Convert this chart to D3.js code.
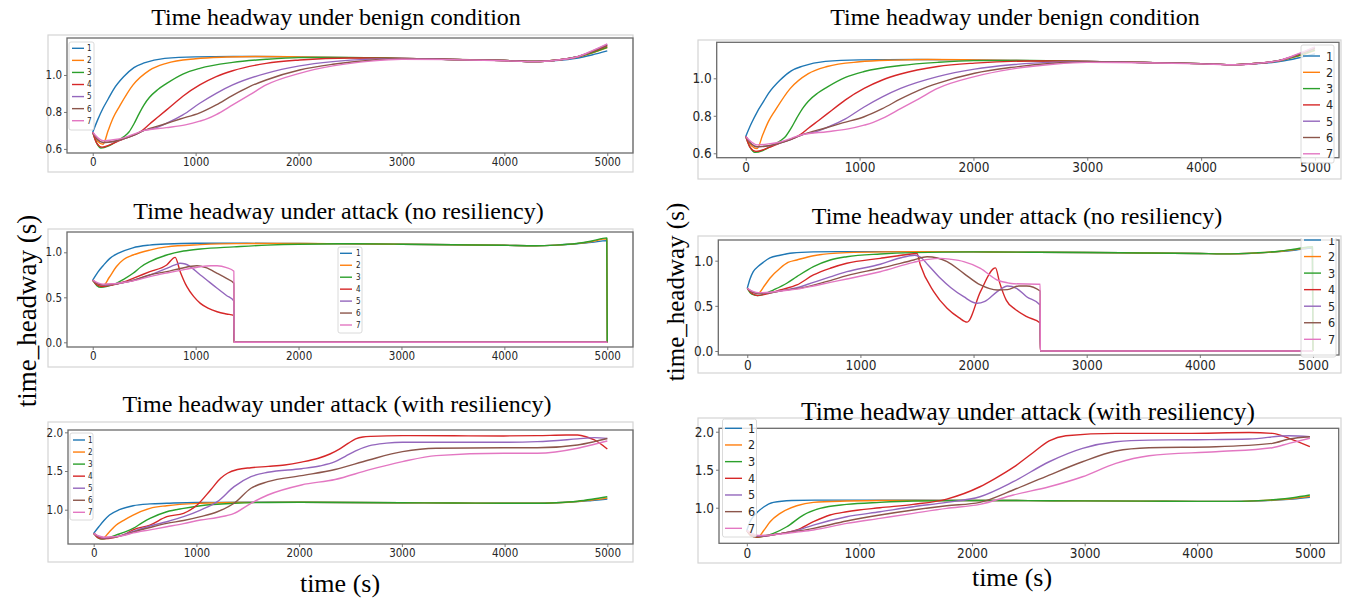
<!DOCTYPE html>
<html>
<head>
<meta charset="utf-8">
<script src="https://cdn.jsdelivr.net/npm/d3@7"></script>
<style>
  body { margin: 0; background: #fff; }
  svg { display: block; }
  .tick text { font-family: "Liberation Sans Narrow", "DejaVu Sans Condensed", "Arial Narrow", sans-serif; fill: #262626; }
  .serif { font-family: "Liberation Serif", "Times New Roman", serif; fill: #000; }
</style>
</head>
<body>
<svg id="chart" width="1356" height="606"></svg>
<script>
const colors = ['#1f77b4', '#ff7f0e', '#2ca02c', '#d62728', '#9467bd', '#8c564b', '#e377c2']
const seriesLabels = ['1', '2', '3', '4', '5', '6', '7']
const xTicks = [0, 1000, 2000, 3000, 4000, 5000]
const yTicksBenign = [0.6, 0.8, 1.0]
const yTicksAttack = [0.0, 0.5, 1.0]
const yTicksResilient = [1.0, 1.5, 2.0]
const titleBenign = 'Time headway under benign condition'
const titleAttack = 'Time headway under attack (no resiliency)'
const titleResilient = 'Time headway under attack (with resiliency)'

// benign condition (same run in both columns)
const benign = [
  [[0,.69],[50,.76],[100,.82],[150,.87],[200,.92],[300,.99],[400,1.04],[500,1.065],[700,1.09],[1000,1.098],[1500,1.1],[2000,1.098],[2500,1.094],[3000,1.09],[3500,1.084],[4000,1.078],[4300,1.073],[4500,1.078],[4700,1.09],[4850,1.108],[5000,1.13]],
  [[0,.69],[50,.64],[100,.625],[150,.7],[200,.77],[260,.83],[390,.945],[550,1.025],[715,1.063],[1000,1.088],[1300,1.097],[1600,1.1],[2000,1.098],[2500,1.094],[3000,1.09],[3500,1.084],[4000,1.078],[4300,1.073],[4500,1.08],[4700,1.095],[4850,1.118],[5000,1.148]],
  [[0,.69],[40,.63],[80,.605],[150,.615],[200,.63],[300,.665],[350,.69],[400,.735],[450,.79],[500,.84],[550,.878],[630,.92],[715,.953],[876,1.005],[1040,1.036],[1360,1.068],[1685,1.085],[2000,1.094],[2500,1.095],[3000,1.09],[3500,1.084],[4000,1.078],[4300,1.073],[4500,1.08],[4700,1.097],[4850,1.12],[5000,1.15]],
  [[0,.69],[40,.63],[90,.61],[200,.63],[300,.655],[400,.675],[480,.7],[553,.735],[640,.775],[715,.81],[800,.85],[876,.885],[1040,.946],[1200,.991],[1360,1.023],[1685,1.063],[2010,1.081],[2500,1.092],[3000,1.09],[3500,1.084],[4000,1.078],[4300,1.073],[4500,1.08],[4700,1.097],[4850,1.125],[5000,1.158]],
  [[0,.69],[50,.65],[100,.635],[200,.64],[300,.655],[400,.675],[500,.7],[600,.712],[715,.738],[876,.784],[1040,.847],[1200,.901],[1360,.946],[1685,1.009],[2010,1.049],[2333,1.072],[2700,1.086],[3000,1.09],[3500,1.084],[4000,1.078],[4300,1.073],[4500,1.08],[4700,1.097],[4850,1.128],[5000,1.165]],
  [[0,.69],[50,.65],[100,.635],[200,.64],[300,.655],[400,.675],[500,.7],[700,.735],[850,.762],[1040,.795],[1200,.838],[1360,.89],[1524,.937],[1685,.973],[2010,1.027],[2333,1.058],[2700,1.08],[3000,1.088],[3500,1.084],[4000,1.078],[4300,1.073],[4500,1.08],[4700,1.097],[4850,1.126],[5000,1.16]],
  [[0,.69],[50,.66],[100,.645],[200,.65],[300,.66],[400,.68],[500,.7],[715,.715],[900,.73],[1040,.75],[1120,.765],[1200,.786],[1360,.838],[1524,.892],[1685,.946],[2010,1.009],[2333,1.049],[2700,1.075],[3000,1.085],[3500,1.083],[4000,1.077],[4300,1.072],[4500,1.08],[4700,1.097],[4850,1.13],[5000,1.168]]
]

// attack without resiliency, left column
const attackLeft = [
  [[0,.69],[50,.78],[100,.85],[164,.93],[250,.99],[390,1.05],[550,1.08],[720,1.093],[1000,1.1],[1500,1.1],[2000,1.098],[2500,1.094],[3000,1.09],[3500,1.084],[4000,1.078],[4300,1.073],[4500,1.08],[4700,1.095],[4850,1.11],[4995,1.13],[5000,0]],
  [[0,.69],[50,.64],[100,.625],[160,.72],[229,.84],[300,.92],[392,.97],[555,1.025],[719,1.06],[1046,1.085],[1400,1.097],[2000,1.098],[2500,1.094],[3000,1.09],[3500,1.084],[4000,1.078],[4300,1.073],[4500,1.08],[4700,1.097],[4850,1.12],[4995,1.15],[5000,0]],
  [[0,.69],[40,.63],[80,.61],[150,.625],[229,.656],[300,.7],[392,.767],[470,.84],[555,.896],[719,.97],[882,1.014],[1046,1.037],[1373,1.06],[1699,1.08],[2000,1.09],[2500,1.095],[3000,1.09],[3500,1.084],[4000,1.078],[4300,1.073],[4500,1.08],[4700,1.098],[4850,1.125],[4995,1.16],[5000,0]],
  [[0,.69],[40,.64],[90,.62],[200,.64],[300,.67],[392,.711],[555,.785],[719,.859],[801,.944],[850,.785],[915,.618],[980,.51],[1046,.433],[1120,.38],[1209,.34],[1300,.315],[1370,.3],[1371,0],[5000,0]],
  [[0,.69],[50,.65],[100,.635],[200,.645],[300,.665],[400,.69],[555,.748],[719,.822],[800,.86],[850,.878],[900,.87],[1046,.748],[1209,.6],[1300,.52],[1372,.459],[1373,0],[5000,0]],
  [[0,.69],[50,.65],[100,.64],[200,.645],[300,.665],[400,.69],[555,.75],[719,.785],[850,.82],[1013,.85],[1100,.83],[1209,.767],[1300,.71],[1372,.656],[1373,0],[5000,0]],
  [[0,.69],[50,.66],[100,.645],[200,.65],[300,.665],[400,.685],[555,.73],[719,.77],[900,.81],[1046,.84],[1150,.85],[1209,.85],[1300,.83],[1372,.79],[1373,0],[5000,0]]
]

// attack without resiliency, right column
const attackRight = [
  [[0,.694],[25,.8],[53,.878],[100,.94],[142,.982],[200,1.03],[290,1.06],[400,1.085],[585,1.097],[800,1.1],[1500,1.1],[2000,1.097],[2500,1.094],[3000,1.09],[3500,1.085],[4000,1.08],[4200,1.075],[4500,1.085],[4700,1.1],[4850,1.118],[4995,1.14],[5000,0]],
  [[0,.694],[50,.65],[97,.64],[150,.72],[200,.805],[290,.916],[360,.98],[438,1.008],[585,1.055],[880,1.089],[1200,1.098],[1500,1.1],[2000,1.097],[2500,1.094],[3000,1.09],[3500,1.085],[4000,1.08],[4200,1.075],[4500,1.085],[4700,1.102],[4850,1.125],[4995,1.15],[5000,0]],
  [[0,.694],[40,.63],[90,.615],[150,.63],[230,.675],[349,.75],[438,.823],[585,.934],[733,1.008],[880,1.044],[1175,1.074],[1470,1.089],[2000,1.097],[2500,1.094],[3000,1.09],[3500,1.085],[4000,1.08],[4200,1.075],[4500,1.087],[4700,1.105],[4850,1.13],[4995,1.155],[5000,0]],
  [[0,.694],[40,.64],[90,.615],[200,.64],[290,.675],[438,.731],[585,.842],[733,.916],[880,.971],[1175,1.026],[1400,1.065],[1500,1.08],[1530,.952],[1648,.657],[1766,.473],[1870,.37],[1943,.32],[2061,.657],[2194,.92],[2230,.76],[2290,.56],[2370,.46],[2470,.38],[2589,.31],[2590,0],[5000,0]],
  [[0,.694],[50,.65],[100,.635],[200,.645],[290,.665],[438,.7],[585,.76],[733,.82],[880,.878],[1175,.96],[1350,1.03],[1480,1.06],[1530,1.04],[1600,.95],[1707,.805],[1800,.7],[1913,.601],[2031,.528],[2100,.55],[2209,.657],[2300,.72],[2380,.694],[2469,.601],[2589,.51],[2590,0],[5000,0]],
  [[0,.694],[50,.65],[100,.64],[200,.645],[290,.665],[438,.69],[585,.73],[733,.78],[880,.834],[1175,.916],[1471,1.008],[1589,1.044],[1680,1.03],[1766,.99],[1913,.86],[2061,.731],[2209,.675],[2300,.68],[2400,.72],[2469,.72],[2589,.664],[2590,0],[5000,0]],
  [[0,.694],[50,.66],[100,.645],[200,.65],[290,.665],[438,.685],[585,.72],[733,.76],[880,.797],[1175,.878],[1471,.982],[1600,1.015],[1707,1.026],[1800,1.015],[1913,.99],[2061,.916],[2209,.786],[2300,.755],[2356,.745],[2589,.739],[2590,0],[5000,0]]
]

// attack with resiliency, left column
const resilientLeft = [
  [[0,.695],[50,.78],[100,.86],[154,.931],[250,1.0],[384,1.052],[550,1.075],[712,1.083],[1000,1.094],[1500,1.096],[2000,1.096],[2500,1.094],[3000,1.09],[3500,1.087],[4000,1.083],[4300,1.083],[4500,1.09],[4710,1.104],[4850,1.12],[5000,1.138]],
  [[0,.695],[50,.65],[88,.63],[150,.71],[220,.802],[300,.87],[384,.931],[548,1.018],[712,1.052],[1040,1.083],[1400,1.094],[2000,1.096],[2500,1.094],[3000,1.09],[3500,1.087],[4000,1.083],[4300,1.083],[4500,1.09],[4710,1.106],[4850,1.125],[5000,1.15]],
  [[0,.695],[40,.64],[80,.62],[150,.64],[220,.673],[300,.71],[384,.759],[470,.83],[548,.888],[712,.974],[875,1.018],[1040,1.052],[1367,1.083],[1700,1.094],[2000,1.096],[2500,1.094],[3000,1.09],[3500,1.087],[4000,1.083],[4300,1.083],[4500,1.09],[4710,1.11],[4850,1.135],[5000,1.168]],
  [[0,.695],[40,.64],[90,.625],[200,.64],[300,.68],[384,.74],[548,.802],[712,.91],[875,.953],[1007,1.061],[1138,1.255],[1236,1.406],[1302,1.471],[1400,1.52],[1531,1.543],[1700,1.56],[1859,1.578],[2023,1.615],[2187,1.665],[2300,1.72],[2400,1.79],[2480,1.86],[2550,1.915],[2620,1.94],[2700,1.948],[3006,1.957],[3500,1.955],[3990,1.953],[4317,1.957],[4600,1.965],[4710,1.966],[4800,1.94],[4874,1.902],[5000,1.785]],
  [[0,.695],[50,.65],[100,.635],[200,.645],[300,.68],[384,.72],[548,.79],[712,.845],[875,.91],[1040,.996],[1204,1.104],[1367,1.298],[1531,1.427],[1695,1.484],[2023,1.53],[2200,1.565],[2350,1.62],[2450,1.69],[2550,1.76],[2678,1.825],[2850,1.86],[3006,1.871],[3500,1.871],[3990,1.871],[4317,1.88],[4710,1.915],[4874,1.931],[5000,1.92]],
  [[0,.695],[50,.65],[100,.64],[200,.645],[300,.675],[384,.71],[548,.77],[712,.824],[875,.86],[1040,.91],[1204,.974],[1367,1.083],[1531,1.277],[1695,1.362],[2023,1.44],[2350,1.52],[2678,1.643],[3006,1.75],[3334,1.794],[3990,1.8],[4317,1.8],[4710,1.837],[4874,1.88],[5000,1.92]],
  [[0,.695],[50,.66],[100,.645],[200,.65],[300,.67],[384,.7],[548,.74],[712,.78],[875,.82],[1040,.867],[1204,.9],[1367,.953],[1531,1.083],[1695,1.19],[2023,1.32],[2350,1.39],[2678,1.514],[3006,1.621],[3334,1.699],[3990,1.73],[4317,1.73],[4710,1.794],[4874,1.846],[5000,1.888]]
]

// attack with resiliency, right column
const resilientRight = [
  [[0,.7],[30,.82],[60,.89],[100,.95],[150,1.01],[236,1.071],[400,1.095],[600,1.1],[1000,1.1],[1500,1.098],[2000,1.096],[2500,1.094],[3000,1.09],[3500,1.087],[4000,1.083],[4300,1.083],[4500,1.088],[4700,1.1],[4850,1.115],[5000,1.137]],
  [[0,.7],[50,.64],[103,.618],[150,.7],[207,.816],[296,.926],[443,1.026],[591,1.071],[887,1.088],[1200,1.096],[2000,1.096],[2500,1.094],[3000,1.09],[3500,1.087],[4000,1.083],[4300,1.083],[4500,1.09],[4700,1.104],[4850,1.122],[5000,1.15]],
  [[0,.7],[40,.63],[90,.612],[150,.625],[236,.663],[355,.75],[502,.904],[650,.991],[887,1.044],[1183,1.071],[1478,1.088],[2000,1.095],[2500,1.094],[3000,1.09],[3500,1.087],[4000,1.083],[4300,1.083],[4500,1.09],[4700,1.108],[4850,1.132],[5000,1.167]],
  [[0,.7],[40,.63],[90,.615],[200,.635],[300,.66],[443,.707],[591,.816],[739,.904],[887,.947],[1183,1.0],[1478,1.044],[1775,1.114],[2070,1.276],[2200,1.38],[2366,1.53],[2538,1.72],[2685,1.88],[2833,1.947],[3277,1.978],[3900,1.978],[4460,1.99],[4667,1.978],[4815,1.913],[5000,1.803]],
  [[0,.7],[50,.65],[100,.625],[200,.635],[300,.66],[443,.7],[591,.772],[887,.882],[1183,.947],[1478,1.013],[1775,1.071],[2070,1.145],[2366,1.342],[2685,1.605],[2981,1.781],[3277,1.868],[3572,1.89],[4000,1.895],[4460,1.904],[4815,1.947],[5000,1.934]],
  [[0,.7],[50,.655],[100,.63],[200,.64],[300,.66],[443,.69],[591,.729],[887,.825],[1183,.904],[1478,.97],[1775,1.026],[2070,1.071],[2366,1.233],[2685,1.43],[2981,1.605],[3277,1.746],[3572,1.79],[4164,1.803],[4667,1.847],[4815,1.904],[5000,1.934]],
  [[0,.7],[50,.66],[100,.635],[200,.64],[300,.655],[443,.68],[591,.707],[887,.794],[1183,.86],[1478,.926],[1775,.991],[2070,1.044],[2366,1.167],[2685,1.276],[2981,1.408],[3277,1.584],[3572,1.684],[4164,1.737],[4667,1.79],[4815,1.847],[5000,1.914]]
]

// layout of the six sub-figures (pixel boxes, domains, legend spots)
const panels = [
  { data: benign, title: titleBenign, yTicks: yTicksBenign,
    frame: [48, 35, 633, 172], box: [67, 38, 633, 153], xDom: [-250, 5250], yDom: [0.578, 1.2],
    titleX: 336, titleY: 25, titleSize: 24, tickSize: 11.5,
    legend: { x: 69, y: 42, w: 25, h: 88, first: 48.3, step: 12.07, line: [72, 84], label: 87, font: 8 } },
  { data: attackLeft, title: titleAttack, yTicks: yTicksAttack,
    frame: [48, 229, 633, 367], box: [67, 232, 633, 347], xDom: [-250, 5250], yDom: [-0.052, 1.2256],
    titleX: 338.5, titleY: 219, titleSize: 24, tickSize: 11.5,
    legend: { x: 338, y: 247, w: 24, h: 86, first: 253.3, step: 11.95, line: [340, 352], label: 356, font: 8 } },
  { data: resilientLeft, title: titleResilient, yTicks: yTicksResilient,
    frame: [48, 422, 633, 562], box: [68, 430, 633, 544], xDom: [-250, 5250], yDom: [0.557, 2.03],
    titleX: 337, titleY: 412, titleSize: 24, tickSize: 11.5,
    legend: { x: 70, y: 433, w: 23, h: 87, first: 440, step: 12.05, line: [73, 85], label: 88, font: 8 } },
  { data: benign, title: titleBenign, yTicks: yTicksBenign,
    frame: [698, 40, 1341, 179], box: [716.7, 42.3, 1339, 157.7], xDom: [-255, 5211], yDom: [0.5765, 1.192],
    titleX: 1015, titleY: 25, titleSize: 24, tickSize: 13.5,
    legend: { x: 1301, y: 45, w: 33, h: 118, first: 56, step: 16.3, line: [1303, 1320], label: 1326, font: 12.5 } },
  { data: attackRight, title: titleAttack, yTicks: yTicksAttack,
    frame: [698, 236, 1341, 373], box: [718.3, 240, 1339, 355], xDom: [-256, 5230], yDom: [-0.0443, 1.229],
    titleX: 1017, titleY: 224, titleSize: 24, tickSize: 13.5, clipTop: 238,
    legend: { x: 1301, y: 230, w: 35, h: 127, first: 240, step: 16.55, line: [1304, 1321], label: 1328, font: 12.5 } },
  { data: resilientRight, title: titleResilient, yTicks: yTicksResilient,
    frame: [698, 418, 1341, 563], box: [719, 428.3, 1338.7, 543.3], xDom: [-247, 5256], yDom: [0.532, 2.045],
    titleX: 1028, titleY: 420, titleSize: 25.4, tickSize: 13.5,
    legend: { x: 722.5, y: 419, w: 34, h: 118, first: 428.3, step: 16.67, line: [725, 742], label: 748, font: 12.5 } }
]

const svg = d3.select('#chart')
const defs = svg.append('defs')

panels.forEach(function(p, k) {
  const [fx0, fy0, fx1, fy1] = p.frame
  const [x0, y0, x1, y1] = p.box
  const g = svg.append('g')

  // screenshot border
  g.append('rect')
    .attr('x', fx0).attr('y', fy0)
    .attr('width', fx1 - fx0).attr('height', fy1 - fy0)
    .attr('fill', 'none').attr('stroke', '#d4d4d4').attr('stroke-width', 1.2)

  const x = d3.scaleLinear().domain(p.xDom).range([x0, x1])
  const y = d3.scaleLinear().domain(p.yDom).range([y1, y0])

  const line = d3.line()
    .x(function(d) { return x(d[0]) })
    .y(function(d) { return y(d[1]) })
    .curve(d3.curveMonotoneX)

  defs.append('clipPath').attr('id', 'clip' + k)
    .append('rect').attr('x', x0).attr('y', y0).attr('width', x1 - x0).attr('height', y1 - y0)

  g.append('g').attr('clip-path', 'url(#clip' + k + ')')
    .selectAll('path')
    .data(p.data)
    .enter()
    .append('path')
    .attr('d', function(d) { return line(d) })
    .attr('fill', 'none')
    .attr('stroke', function(d, i) { return colors[i] })
    .attr('stroke-width', 1.4)
    .attr('stroke-linejoin', 'round')

  // axes
  const xAxis = g.append('g')
    .attr('transform', 'translate(0,' + y1 + ')')
    .call(d3.axisBottom(x).tickValues(xTicks).tickFormat(d3.format('d')).tickSize(3).tickPadding(2))
  const yAxis = g.append('g')
    .attr('transform', 'translate(' + x0 + ',0)')
    .call(d3.axisLeft(y).tickValues(p.yTicks).tickFormat(d3.format('.1f')).tickSize(3).tickPadding(2))
  ;[xAxis, yAxis].forEach(function(a) {
    a.select('.domain').remove()
    a.selectAll('.tick line').attr('stroke', '#555').attr('stroke-width', 0.8)
    a.selectAll('.tick text').attr('font-size', p.tickSize).attr('fill', '#262626')
  })

  g.append('rect')
    .attr('x', x0).attr('y', y0).attr('width', x1 - x0).attr('height', y1 - y0)
    .attr('fill', 'none').attr('stroke', '#6b6b6b').attr('stroke-width', 1.3)

  // legend
  const L = p.legend
  const lg = g.append('g')
  if (p.clipTop) {
    defs.append('clipPath').attr('id', 'lclip' + k)
      .append('rect').attr('x', fx0).attr('y', p.clipTop).attr('width', fx1 - fx0).attr('height', fy1 - p.clipTop)
    lg.attr('clip-path', 'url(#lclip' + k + ')')
  }
  lg.append('rect')
    .attr('x', L.x).attr('y', L.y).attr('width', L.w).attr('height', L.h)
    .attr('rx', 2)
    .attr('fill', '#fff').attr('fill-opacity', 0.8)
    .attr('stroke', '#d0d0d0').attr('stroke-width', 0.8)
  const items = lg.selectAll('g.item')
    .data(seriesLabels)
    .enter()
    .append('g')
    .attr('class', 'item')
    .attr('transform', function(d, i) { return 'translate(0,' + (L.first + i * L.step) + ')' })
  items.append('line')
    .attr('x1', L.line[0]).attr('x2', L.line[1])
    .attr('stroke', function(d, i) { return colors[i] })
    .attr('stroke-width', 1.4)
  items.append('text')
    .attr('x', L.label).attr('y', L.font * 0.36)
    .attr('font-size', L.font)
    .attr('font-family', '"Liberation Sans Narrow", "DejaVu Sans Condensed", sans-serif')
    .attr('fill', '#262626')
    .text(function(d) { return d })

  // title
  svg.append('text')
    .attr('class', 'serif')
    .attr('x', p.titleX).attr('y', p.titleY)
    .attr('text-anchor', 'middle')
    .attr('font-size', p.titleSize)
    .text(p.title)
})

// shared axis labels of each column
svg.append('text').attr('class', 'serif')
  .attr('transform', 'translate(36,311) rotate(-90)')
  .attr('text-anchor', 'middle').attr('font-size', 27)
  .text('time_headway (s)')
svg.append('text').attr('class', 'serif')
  .attr('transform', 'translate(684,292) rotate(-90)')
  .attr('text-anchor', 'middle').attr('font-size', 25)
  .text('time_headway (s)')
svg.append('text').attr('class', 'serif')
  .attr('x', 340).attr('y', 592)
  .attr('text-anchor', 'middle').attr('font-size', 26)
  .text('time (s)')
svg.append('text').attr('class', 'serif')
  .attr('x', 1012).attr('y', 586)
  .attr('text-anchor', 'middle').attr('font-size', 26)
  .text('time (s)')
</script>
</body>
</html>
